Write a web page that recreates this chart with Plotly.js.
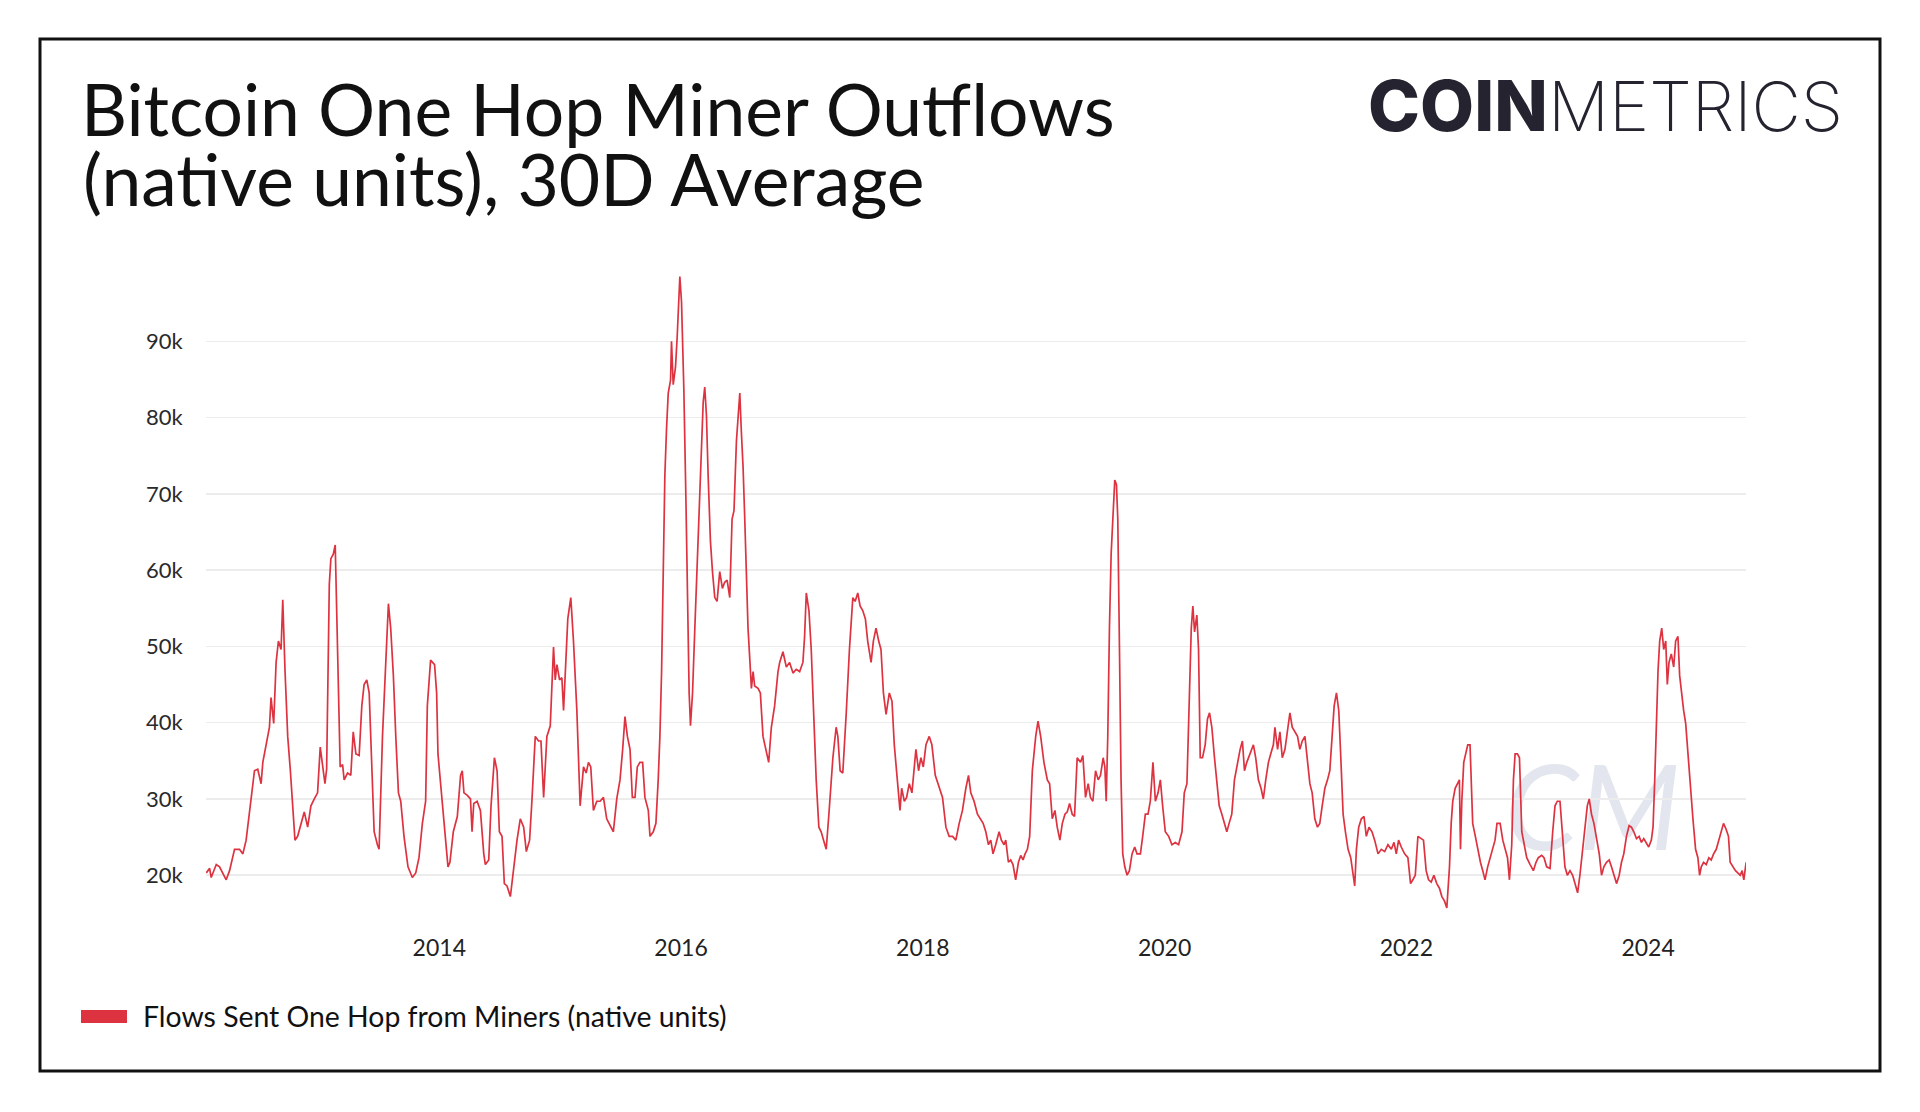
<!DOCTYPE html>
<html>
<head>
<meta charset="utf-8">
<script src="https://cdn.plot.ly/plotly-3.0.1.min.js"></script>
<style>
html,body{margin:0;padding:0;background:#fff;}
#chart{width:1920px;height:1112px;}
</style>
</head>
<body>
<div id="chart"></div>
<script>
// ---- data (decimal year, native units) ----
const years = [
2012.072,2012.100,2012.113,2012.155,2012.182,2012.210,2012.237,2012.265,2012.306,2012.347,2012.375,2012.402,2012.443,2012.471,2012.498,2012.526,2012.540,2012.567,2012.595,2012.608,2012.630,2012.650,2012.669,2012.691,2012.705,2012.724,2012.746,2012.768,2012.787,2012.806,2012.828,2012.856,2012.883,2012.911,2012.938,2012.966,2012.993,
2013.015,2013.035,2013.054,2013.068,2013.090,2013.103,2013.123,2013.139,2013.158,2013.180,2013.200,2013.213,2013.241,2013.268,2013.288,2013.310,2013.337,2013.359,2013.378,2013.400,2013.420,2013.439,2013.461,2013.488,2013.502,2013.530,2013.557,2013.579,2013.598,2013.620,2013.640,2013.662,2013.681,2013.708,2013.741,2013.777,2013.805,2013.832,2013.860,2013.887,2013.901,2013.928,2013.961,2013.978,2013.989,
2014.025,2014.052,2014.072,2014.088,2014.116,2014.149,2014.176,2014.190,2014.204,
2014.230,2014.258,2014.271,2014.285,2014.313,2014.340,2014.368,2014.381,2014.409,2014.428,2014.456,2014.478,2014.497,2014.519,2014.538,2014.560,2014.588,2014.601,2014.643,2014.670,2014.698,2014.720,2014.747,2014.766,2014.794,2014.821,2014.841,2014.863,2014.890,2014.918,2014.931,2014.945,2014.959,2014.973,2014.995,
2015.014,2015.028,2015.047,2015.063,2015.088,2015.110,2015.138,2015.151,2015.165,2015.193,2015.215,2015.234,2015.253,2015.275,2015.303,2015.330,2015.358,2015.385,2015.413,2015.440,2015.468,2015.495,2015.517,2015.536,2015.556,2015.578,2015.597,2015.619,2015.638,2015.660,2015.682,2015.701,2015.729,2015.743,2015.770,2015.792,2015.811,2015.825,2015.839,2015.853,2015.866,2015.880,2015.894,2015.913,2015.921,2015.935,2015.954,2015.968,2015.982,2015.990,
2016.004,2016.023,2016.040,2016.053,2016.067,2016.078,2016.095,2016.114,2016.141,2016.161,2016.183,2016.196,2016.210,2016.224,2016.243,2016.260,2016.279,2016.298,2016.320,2016.342,2016.361,2016.381,2016.403,2016.422,2016.438,
2016.458,2016.486,2016.499,2016.513,2016.527,2016.541,2016.554,2016.568,2016.582,2016.596,2016.609,2016.637,2016.656,2016.678,2016.706,2016.725,2016.747,2016.774,2016.802,2016.816,2016.843,2016.871,2016.898,2016.926,2016.953,2016.981,
2017.008,2017.022,2017.036,2017.058,2017.077,2017.096,2017.118,2017.140,2017.159,2017.179,2017.201,2017.223,2017.256,2017.283,2017.297,2017.316,2017.338,2017.366,2017.393,2017.421,2017.440,2017.462,2017.481,2017.503,2017.525,2017.544,2017.572,2017.591,2017.613,2017.635,2017.654,2017.674,2017.696,2017.723,2017.745,2017.764,2017.792,2017.811,2017.825,2017.847,2017.866,2017.888,2017.910,2017.929,2017.943,2017.965,2017.984,
2018.004,2018.026,2018.053,2018.075,2018.103,2018.136,2018.163,2018.191,2018.218,2018.246,2018.273,2018.301,2018.328,2018.356,2018.378,2018.397,2018.424,2018.452,2018.479,2018.499,2018.521,2018.543,2018.562,2018.581,2018.603,2018.631,2018.650,2018.672,
2018.686,2018.708,2018.727,2018.746,2018.768,2018.791,2018.810,2018.829,2018.846,2018.865,2018.884,2018.906,2018.934,2018.953,2018.975,
2019.002,2019.030,2019.049,2019.071,2019.093,2019.112,2019.134,2019.154,2019.176,2019.195,2019.214,2019.236,2019.255,2019.277,2019.305,2019.324,2019.346,2019.368,2019.387,2019.407,2019.429,2019.451,2019.470,2019.492,2019.506,2019.517,2019.530,2019.544,2019.558,2019.572,2019.588,2019.602,2019.613,2019.627,2019.640,2019.654,2019.671,2019.690,2019.709,2019.731,2019.753,2019.772,2019.800,2019.819,2019.841,2019.863,2019.882,2019.904,2019.924,2019.946,2019.965,2019.984,
2020.006,2020.034,2020.061,2020.089,2020.116,2020.144,2020.163,2020.185,2020.204,2020.221,2020.234,2020.248,2020.267,2020.281,2020.295,2020.314,2020.336,2020.355,2020.372,2020.391,2020.413,2020.432,2020.452,2020.474,2020.496,2020.515,2020.534,2020.556,2020.578,2020.603,2020.625,2020.644,2020.661,2020.680,2020.707,2020.735,2020.754,2020.776,2020.798,2020.817,2020.837,2020.859,2020.878,2020.900,
2020.913,2020.935,2020.954,2020.974,2020.996,
2021.018,2021.037,2021.056,2021.078,2021.100,2021.119,2021.139,2021.161,2021.180,2021.202,2021.221,2021.243,2021.265,2021.284,2021.304,2021.326,2021.348,2021.367,2021.386,2021.403,2021.422,2021.441,2021.458,2021.477,2021.496,2021.518,2021.540,2021.559,2021.573,2021.587,2021.606,2021.628,2021.650,2021.669,2021.691,2021.716,2021.738,2021.766,2021.793,2021.821,2021.848,2021.876,2021.898,2021.917,2021.936,2021.958,2021.986,
2022.013,2022.035,2022.054,2022.074,2022.096,2022.123,2022.142,2022.164,2022.184,2022.206,2022.228,2022.252,2022.274,2022.294,2022.316,2022.335,2022.357,2022.371,2022.384,2022.404,2022.426,2022.439,2022.448,2022.459,2022.475,2022.489,2022.508,2022.527,2022.549,2022.571,2022.591,2022.613,2022.632,2022.651,2022.673,2022.695,2022.714,2022.734,2022.750,
2022.776,2022.798,2022.817,2022.837,2022.853,2022.872,2022.886,2022.900,2022.919,2022.936,2022.955,2022.974,2022.996,
2023.024,2023.051,2023.073,2023.092,2023.120,2023.139,2023.161,2023.189,2023.211,2023.230,2023.249,2023.271,2023.293,2023.312,2023.332,2023.354,2023.376,2023.395,2023.417,2023.436,2023.458,2023.477,2023.497,2023.513,2023.532,2023.552,2023.574,2023.596,2023.615,2023.634,2023.656,2023.678,2023.697,2023.717,2023.739,2023.761,2023.780,2023.799,2023.821,2023.843,2023.862,2023.882,2023.904,2023.926,2023.945,2023.964,2023.986,
2024.005,2024.027,2024.041,2024.055,2024.069,2024.082,2024.096,2024.113,2024.129,2024.146,2024.159,2024.173,2024.192,2024.212,2024.228,2024.247,2024.261,2024.275,2024.294,2024.311,2024.330,2024.349,2024.371,2024.393,2024.412,2024.426,2024.440,2024.459,2024.481,2024.503,2024.522,2024.542,2024.564,2024.583,2024.605,2024.624,2024.646,2024.665,2024.679,2024.701,2024.723,2024.742,2024.762,2024.778,2024.792,2024.811
];
const flows = [
20300,20900,19700,21400,21100,20300,19400,20600,23400,23400,22800,24600,29700,33700,33900,32000,34800,37100,39400,43300,39900,47900,50700,49600,56100,46700,38200,33700,29700,24600,25100,26800,28300,26300,29100,30000,30800,
36800,34200,32000,33900,58100,61500,62100,63300,49600,34200,34500,32500,33400,33100,38800,35900,35700,42200,45000,45600,43900,35400,25700,24000,23400,38200,48500,55600,52400,46200,38200,30800,29700,25100,21100,19700,20300,22300,26800,29700,42200,48200,47600,43900,35900,
29100,24600,21100,21700,25700,27700,33100,33700,30800,
30500,30000,25700,29400,29700,28500,22800,21400,22000,29100,35400,33700,25700,25100,18900,18600,17200,19100,24600,27400,26300,23100,24600,29700,38200,37600,37600,30200,38200,39600,43900,49900,45600,47600,45600,
45900,41600,49300,53600,56400,50700,41600,35400,29100,34200,33400,34800,34200,28500,29700,29700,30200,27400,26500,25700,30000,32500,36500,40800,38200,36500,30200,30200,34200,34800,34800,30200,28500,25100,25700,26800,32500,38200,46700,61000,72400,78600,83200,84900,90000,84300,86600,90600,94600,98500,
95100,83700,69500,55300,43900,39600,43900,52400,63800,72400,82000,84000,80300,72400,63800,59800,56400,55900,59800,57600,58400,58700,56400,66700,67800,
76900,83200,78100,73500,66700,57600,52400,48500,44500,46700,44800,44500,43900,38200,35900,34800,39400,42200,46700,47900,49300,47300,47900,46500,47000,46700,
47900,51300,57000,54700,49600,41100,32500,26300,25700,24600,23400,28000,35400,39400,38200,33700,33400,41100,49600,56400,55900,57000,55300,54700,53600,50700,47900,50700,52400,50700,49600,43900,41100,43900,42800,37100,32500,28500,31400,29700,30200,32000,30800,34200,36500,33700,35400,
34200,37100,38200,37100,33100,31400,30200,26300,25100,25100,24600,26800,28500,31400,33100,30800,29700,28000,27400,26800,25700,24000,24600,22800,24000,25700,24600,24000,
24600,21700,22000,21400,19400,21700,22600,22000,22800,23400,25100,33700,38200,40200,38200,
34800,32500,32000,27400,28500,26300,24600,26800,28000,28300,29400,28000,27700,35400,34800,35700,30200,32000,30200,29700,33700,32500,33100,35400,34200,29700,38200,52400,62100,66700,71800,71200,66700,49600,32500,22800,21100,20000,20600,22800,23700,22800,22800,25100,28000,28000,29700,34800,29700,30800,32500,29100,
25700,25100,24000,24300,24000,25700,30800,32000,43900,52400,55300,51900,54100,49600,35400,35400,37100,40500,41300,39400,35400,32500,29100,28000,26800,25700,26800,28000,32500,34800,36500,37600,33700,34800,35900,37100,35400,32500,31400,30000,32500,34800,35900,37100,
39400,36500,38800,35400,36500,
39400,41300,39400,38800,38200,36500,37600,38200,35400,32000,30800,27400,26300,26800,29100,31400,32500,33700,38200,42200,43900,41600,35400,28000,25700,23400,22300,20000,18600,23400,26300,27400,27700,25100,26300,25700,24600,22800,23400,23100,24000,23400,24300,22800,24600,23700,22800,
22300,18900,19400,20000,25100,24800,24600,20600,19400,19100,20000,18900,18300,17200,16600,15700,21100,26800,29700,31400,32000,32500,23400,29700,34800,35900,37100,37100,26800,25100,23400,21700,20600,19400,21100,22300,23400,24600,26800,
26800,24600,23400,22300,19400,24000,32500,35900,35900,35400,25700,24000,22300,
21400,20600,21700,22300,22600,22300,21100,20900,25700,29100,29700,29700,25100,21100,20000,20600,20000,18900,17700,20000,23400,26300,29100,30000,28000,26800,24600,22800,20000,21100,21700,22000,21100,20000,18900,20000,21700,22800,25100,26500,26300,25700,24800,25100,24300,24800,24300,
23700,24600,26300,32500,41100,46700,50700,52400,49600,50700,45000,47900,49000,47300,50700,51300,46200,43900,41600,39900,35400,32000,27400,23400,22300,20000,21100,21700,21400,22300,22000,22800,23400,24600,25700,26800,26000,25100,21700,21100,20600,20300,20000,20600,19400,21700
];
const xTickVals = [2014, 2016, 2018, 2020, 2022, 2024];
const xTickText = ['2014', '2016', '2018', '2020', '2022', '2024'];
const yTickVals = [20000, 30000, 40000, 50000, 60000, 70000, 80000, 90000];
const yTickText = ['20k', '30k', '40k', '50k', '60k', '70k', '80k', '90k'];
const seriesName = 'Flows Sent One Hop from Miners (native units)';
const titleLine1 = 'Bitcoin One Hop Miner Outflows';
const titleLine2 = '(native units), 30D Average';

// ---- layout helpers (pixel -> paper) ----
const L = 206, R = 174, T = 265, B = 191, W = 1920, H = 1112;
const PW = W - L - R, PH = H - T - B;
const px = X => (X - L) / PW;
const py = Y => (H - B - Y) / PH;
const RED = '#dd3341';

const trace = {
  x: years, y: flows, type: 'scatter', mode: 'lines', name: seriesName,
  line: {color: RED, width: 1.7}, showlegend: false, hoverinfo: 'x+y'
};

const layout = {
  width: W, height: H,
  margin: {l: L, r: R, t: T, b: B, pad: 0},
  paper_bgcolor: '#ffffff', plot_bgcolor: '#ffffff',
  title: {
    text: titleLine1, xref: 'container', yref: 'container',
    x: 81 / W, xanchor: 'left', y: 1 - 111 / H, yanchor: 'middle',
    font: {family: 'Lato, sans-serif', size: 71.4, color: '#111111'}
  },
  xaxis: {
    range: [2012.07, 2024.81], tickvals: xTickVals, ticktext: xTickText,
    showgrid: false, zeroline: false, showline: false,
    ticks: 'outside', ticklen: 6, tickcolor: 'rgba(0,0,0,0)',
    tickfont: {family: 'Lato, sans-serif', size: 23, color: '#222222'}
  },
  yaxis: {
    range: [14000, 100000], tickvals: yTickVals, ticktext: yTickText,
    showgrid: true, gridcolor: '#ececec', gridwidth: 1.5,
    zeroline: false, showline: false,
    ticks: 'outside', ticklen: 18, tickcolor: 'rgba(0,0,0,0)',
    tickfont: {family: 'Lato, sans-serif', size: 22, color: '#2a2a2a'}
  },
  shapes: [
    {type: 'rect', xref: 'paper', yref: 'paper', layer: 'above',
     x0: px(40), x1: px(1880), y0: py(1071), y1: py(39),
     line: {color: '#111111', width: 3}, fillcolor: 'rgba(0,0,0,0)'},
    {type: 'rect', xref: 'paper', yref: 'paper',
     x0: px(81), x1: px(127), y0: py(1023), y1: py(1010),
     line: {width: 0}, fillcolor: RED},
    {type: 'rect', xref: 'paper', yref: 'paper', layer: 'below',
     x0: px(1520), x1: px(1665), y0: py(860), y1: py(745),
     line: {width: 0}, fillcolor: 'rgba(0,0,0,0)',
     label: {text: 'CM', textposition: 'middle center',
             font: {family: 'Lato, sans-serif', size: 118, color: '#e3e6ee', style: 'italic', weight: 400}}}
  ],
  annotations: [
    {text: titleLine2, xref: 'paper', yref: 'paper', x: px(81), y: py(178),
     xanchor: 'left', yanchor: 'middle', showarrow: false,
     font: {family: 'Lato, sans-serif', size: 71.4, color: '#111111'}},
    {text: 'COIN', xref: 'paper', yref: 'paper', x: px(1366), y: py(106),
     xanchor: 'left', yanchor: 'middle', showarrow: false,
     font: {family: 'Inter, sans-serif', size: 70, color: '#25232f', weight: 800}},
    {text: 'METRICS', xref: 'paper', yref: 'paper', x: px(1546), y: py(106),
     xanchor: 'left', yanchor: 'middle', showarrow: false,
     font: {family: 'Inter, sans-serif', size: 68, color: '#25232f', weight: 200}},
    {text: seriesName, xref: 'paper', yref: 'paper', x: px(141), y: py(1016),
     xanchor: 'left', yanchor: 'middle', showarrow: false,
     font: {family: 'Lato, sans-serif', size: 28.4, color: '#111111'}}
  ]
};

Plotly.newPlot('chart', [trace], layout, {staticPlot: true, displayModeBar: false});
</script>
</body>
</html>
